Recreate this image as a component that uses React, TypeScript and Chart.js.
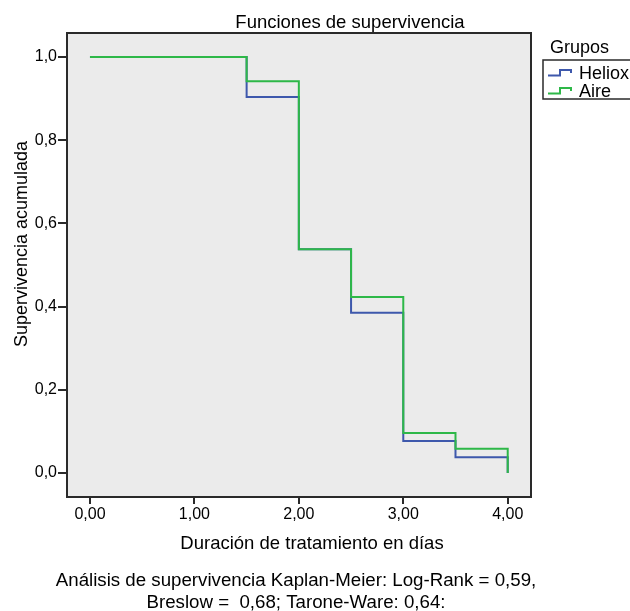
import React, { useEffect, useRef } from "react";
import { Chart, registerables } from "chart.js";

Chart.register(...registerables);

const times = [0, 1.5, 2.0, 2.5, 3.0, 3.5, 4.0];
const survHeliox = [1.0, 0.904, 0.538, 0.385, 0.077, 0.038, 0.0];
const survAire = [1.0, 0.942, 0.538, 0.423, 0.096, 0.058, 0.0];
const groupNames = ["Heliox", "Aire"];
const xTicks = [0, 1, 2, 3, 4];
const yTicks = [0, 0.2, 0.4, 0.6, 0.8, 1.0];

const titleText = "Funciones de supervivencia";
const xTitle = "Duración de tratamiento en días";
const yTitle = "Supervivencia acumulada";
const legendTitle = "Grupos";
const captionLines = [
  "Análisis de supervivencia Kaplan-Meier: Log-Rank = 0,59,",
  "Breslow =  0,68; Tarone-Ware: 0,64:",
];

const BLUE = "#3E58AC";
const GREEN = "#2EB848";
const FONT = "'Liberation Sans', Arial, Helvetica, sans-serif";

const decor = {
  id: "decor",
  beforeDatasetsDraw(chart: any) {
    const { ctx, chartArea: a } = chart;
    ctx.save();
    ctx.fillStyle = "#EBEBEB";
    ctx.fillRect(a.left, a.top, a.right - a.left, a.bottom - a.top);
    ctx.restore();
  },
  afterDraw(chart: any) {
    const { ctx, chartArea: a } = chart;
    ctx.save();
    ctx.strokeStyle = "#2a2a2a";
    ctx.lineWidth = 2;
    ctx.strokeRect(a.left, a.top, a.right - a.left, a.bottom - a.top);

    ctx.fillStyle = "#000";
    ctx.textAlign = "center";
    ctx.textBaseline = "alphabetic";
    ctx.font = `18.5px ${FONT}`;
    ctx.fillText(titleText, 350, 27.5);
    ctx.fillText(xTitle, 312, 548.5);
    ctx.font = `18.7px ${FONT}`;
    ctx.fillText(captionLines[0], 296, 586);
    ctx.fillText(captionLines[1], 296, 607.5);

    ctx.font = `18px ${FONT}`;
    ctx.save();
    ctx.translate(26.5, 244);
    ctx.rotate(-Math.PI / 2);
    ctx.fillText(yTitle, 0, 0);
    ctx.restore();

    // legend
    ctx.textAlign = "left";
    ctx.font = `18px ${FONT}`;
    ctx.fillText(legendTitle, 550, 52.5);
    ctx.strokeStyle = "#2a2a2a";
    ctx.lineWidth = 1.5;
    ctx.strokeRect(543, 60, 95, 39);
    const rows = [73, 91];
    const cols = [BLUE, GREEN];
    rows.forEach((cy, i) => {
      ctx.strokeStyle = cols[i];
      ctx.lineWidth = 2;
      ctx.beginPath();
      ctx.moveTo(548, cy + 2.5);
      ctx.lineTo(560, cy + 2.5);
      ctx.lineTo(560, cy - 3);
      ctx.lineTo(571, cy - 3);
      ctx.lineTo(571, cy);
      ctx.stroke();
      ctx.fillStyle = "#000";
      ctx.fillText(groupNames[i], 579, cy + 6);
    });
    ctx.restore();
  },
};

export default function App() {
  const ref = useRef<HTMLCanvasElement | null>(null);
  useEffect(() => {
    if (!ref.current) return;
    const chart = new Chart(ref.current, {
      type: "line",
      data: {
        datasets: [
          {
            label: groupNames[0],
            data: times.map((t, i) => ({ x: t, y: survHeliox[i] })),
            borderColor: BLUE,
            borderWidth: 2,
            stepped: "before",
            pointRadius: 0,
            fill: false,
            order: 2,
          },
          {
            label: groupNames[1],
            data: times.map((t, i) => ({ x: t, y: survAire[i] })),
            borderColor: GREEN,
            borderWidth: 2,
            stepped: "before",
            pointRadius: 0,
            fill: false,
            order: 1,
          },
        ],
      },
      options: {
        animation: false,
        responsive: false,
        devicePixelRatio: 1,
        layout: { padding: { left: 0, top: 33, right: 99, bottom: 0 } },
        plugins: {
          legend: { display: false },
          title: { display: false },
          tooltip: { enabled: false },
        },
        scales: {
          x: {
            type: "linear",
            min: -0.22,
            max: 4.223,
            afterFit: (s: any) => {
              s.height = 114;
            },
            afterBuildTicks: (s: any) => {
              s.ticks = xTicks.map((v) => ({ value: v }));
            },
            border: { display: false },
            grid: {
              drawOnChartArea: false,
              drawTicks: true,
              tickLength: 7,
              color: "#2a2a2a",
              lineWidth: 2,
            },
            ticks: {
              padding: 1,
              color: "#000",
              font: { family: FONT, size: 16 },
              maxRotation: 0,
              autoSkip: false,
              callback: (v: any) => Number(v).toFixed(2).replace(".", ","),
            },
          },
          y: {
            type: "linear",
            min: -0.0577,
            max: 1.0577,
            afterFit: (s: any) => {
              s.width = 67;
            },
            afterBuildTicks: (s: any) => {
              s.ticks = yTicks.map((v) => ({ value: v }));
            },
            border: { display: false },
            grid: {
              drawOnChartArea: false,
              drawTicks: true,
              tickLength: 9,
              color: "#2a2a2a",
              lineWidth: 2,
            },
            ticks: {
              padding: 1,
              color: "#000",
              font: { family: FONT, size: 16 },
              autoSkip: false,
              callback: (v: any) => Number(v).toFixed(1).replace(".", ","),
            },
          },
        },
      },
      plugins: [decor],
    });
    return () => chart.destroy();
  }, []);
  return (
    <div style={{ position: "absolute", left: 0, top: 0, width: 630, height: 611 }}>
      <canvas ref={ref} width={630} height={611} style={{ display: "block" }} />
    </div>
  );
}
